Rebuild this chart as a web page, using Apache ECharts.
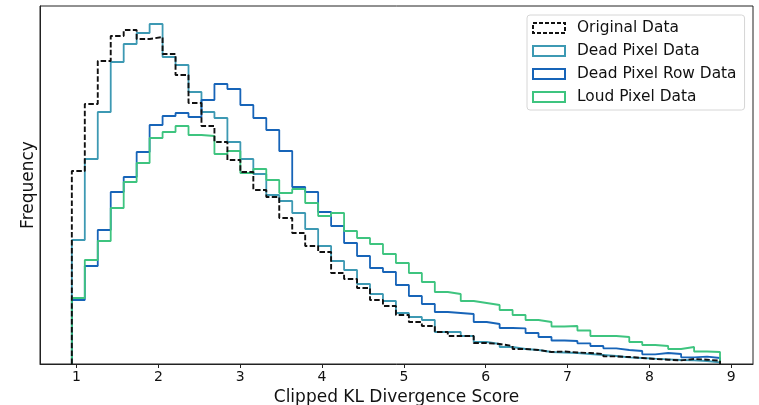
<!DOCTYPE html>
<html>
<head>
<meta charset="utf-8">
<script src="https://cdn.jsdelivr.net/npm/echarts@6/dist/echarts.min.js"></script>
<style>
  html, body { margin: 0; padding: 0; background: #fff; }
  #chart { width: 759px; height: 405px; }
</style>
</head>
<body>
<div id="chart"></div>
<script>
// histogram bins (50 equal bins)
const binStart = 0.943;
const binWidth = 0.1584;
const xTicks = [1, 2, 3, 4, 5, 6, 7, 8, 9];

const seriesNames = ["Original Data", "Dead Pixel Data", "Dead Pixel Row Data", "Loud Pixel Data"];

// bin heights (arbitrary frequency units)
const originalData = [193, 260, 303, 328, 334, 325, 327, 310, 289, 261,
  238, 222, 204, 192, 174, 167, 146, 131, 118, 112,
  91, 85, 76, 64, 58, 49, 42, 38, 32, 28,
  28, 21, 20, 18, 15, 14, 12, 12.5, 11.5, 11,
  10, 7.6, 7, 6, 5, 4.3, 3.6, 5, 4.3, 3.3];
const deadPixelData = [124, 205, 252, 302, 320, 331, 340, 307, 299, 272,
  252, 246, 222, 205, 190, 169, 163, 151, 135, 118,
  103, 94, 80, 70, 63, 51, 47, 44, 32, 32,
  28, 22, 20, 17, 15, 14, 12, 11.5, 11, 10,
  9, 8, 6.7, 6, 5.3, 4.7, 4, 3.7, 3, 1.7];
const deadRowData = [64, 98, 134, 172, 187, 212, 239, 248, 251, 247,
  264, 280, 275, 259, 246, 234, 213, 177, 172, 152,
  138, 121, 108, 96, 92, 79, 68, 60, 52, 51,
  50, 42, 40, 36, 35.7, 31, 27, 23.5, 23, 20.7,
  18, 15.7, 14, 13, 9.7, 11, 10, 6.7, 7.3, 6];
const loudPixelData = [66, 104, 123, 156, 182, 201, 226, 232, 238, 229,
  228, 210, 213, 191, 195, 184, 171, 175, 161, 148,
  151, 133, 126, 120, 110, 101, 91, 82, 72, 70,
  63, 61, 59, 54, 49, 44, 42, 37.5, 38, 33.5,
  28, 28, 27, 22, 19, 18, 15, 17, 12.5, 12];

const colors = ["#111111", "#3d99b3", "#1764b8", "#3ec47f"];

// outline of a step histogram: up at first edge, across each bin, down at the last edge
function stepOutline(heights) {
  const pts = [[binStart, 0]];
  heights.forEach((h, i) => {
    pts.push([binStart + i * binWidth, h]);
    pts.push([binStart + (i + 1) * binWidth, h]);
  });
  pts.push([binStart + heights.length * binWidth, 0]);
  return pts;
}

const allData = [originalData, deadPixelData, deadRowData, loudPixelData];
const font = "DejaVu Sans";

const series = allData.map((d, i) => ({
  name: seriesNames[i],
  type: "line",
  data: stepOutline(d),
  showSymbol: false,
  symbol: "none",
  z: i === 0 ? 10 : 2 + i,
  lineStyle: {
    color: colors[i],
    width: i === 0 ? 1.9 : 1.8,
    type: i === 0 ? [5.5, 2.4] : "solid"
  },
  itemStyle: { color: colors[i] },
  animation: false
}));

const chart = echarts.init(document.getElementById("chart"));
chart.setOption({
  animation: false,
  grid: {
    left: 40, right: 6, top: 6, bottom: 41,
    outerBoundsMode: "none",
    containLabel: false,
    show: true, borderColor: "#222", borderWidth: 1
  },
  legend: {
    orient: "vertical",
    left: 527,
    top: 15,
    icon: "rect",
    itemWidth: 32,
    itemHeight: 10,
    itemGap: 5,
    padding: [4, 8, 4, 5],
    borderColor: "#d6d6d6",
    borderWidth: 1,
    borderRadius: 3,
    backgroundColor: "#fff",
    textStyle: { fontFamily: font, fontSize: 15.4, color: "#111", lineHeight: 18, padding: [0, 0, 0, 7] },
    data: seriesNames.map((n, i) => ({
      name: n,
      itemStyle: {
        color: "rgba(255,255,255,0)",
        borderColor: colors[i],
        borderWidth: 2,
        borderType: i === 0 ? [4, 2] : "solid"
      }
    }))
  },
  xAxis: {
    type: "value",
    min: 0.554,
    max: 9.266,
    name: "Clipped KL Divergence Score",
    nameLocation: "middle",
    nameGap: 20,
    nameTextStyle: { fontFamily: font, fontSize: 17, color: "#111" },
    axisLine: { show: true, lineStyle: { color: "#222", width: 1 } },
    axisTick: { show: true, length: 4, inside: false, customValues: xTicks, lineStyle: { color: "#222" } },
    axisLabel: { customValues: xTicks, margin: 6, fontFamily: font, fontSize: 14, color: "#111" },
    splitLine: { show: false }
  },
  yAxis: {
    type: "value",
    min: 0,
    max: 358,
    name: "Frequency",
    nameLocation: "middle",
    nameGap: 3,
    nameTextStyle: { fontFamily: font, fontSize: 17, color: "#111" },
    axisLine: { show: true, lineStyle: { color: "#222", width: 1 } },
    axisTick: { show: false },
    axisLabel: { show: false },
    splitLine: { show: false }
  },
  series: series
});
</script>
</body>
</html>
